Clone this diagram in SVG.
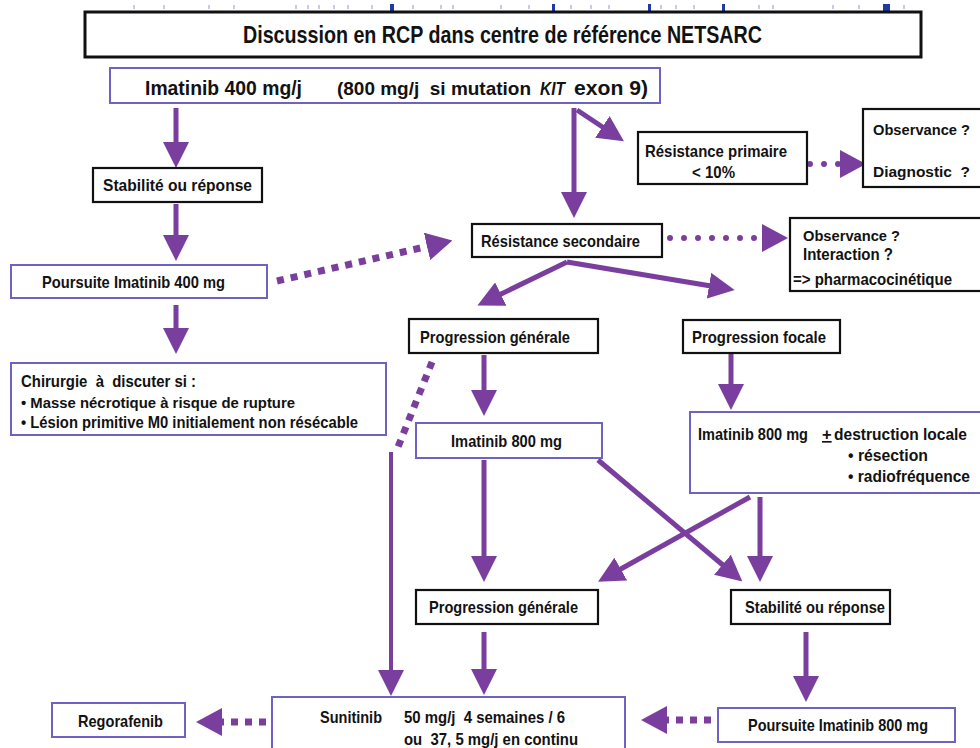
<svg xmlns="http://www.w3.org/2000/svg" width="980" height="748" viewBox="0 0 980 748">
  <style>
    .t { font-family: "Liberation Sans", Arial, Helvetica, sans-serif; font-weight: bold; fill: #121212; white-space: pre; }
    .bk { fill: #ffffff; stroke: #111111; stroke-width: 2.2; }
    .bl { fill: #ffffff; stroke: #6e62c4; stroke-width: 2; }
    .arw { fill: none; stroke: #7a3f9e; stroke-width: 5; marker-end: url(#head); }
    .thin { fill: none; stroke: #7a3f9e; stroke-width: 4; }
    .dsq { fill: none; stroke: #7a3f9e; stroke-width: 7; stroke-dasharray: 7 7; }
    .drd { fill: none; stroke: #7a3f9e; stroke-width: 6; stroke-linecap: round; stroke-dasharray: 0 14; }
    .tick { fill: #c9c9e2; }
    .tickd { fill: #1d3aa6; }
  </style>
  <defs>
    <marker id="head" markerUnits="userSpaceOnUse" markerWidth="26" markerHeight="26" viewBox="0 0 26 26" refX="2" refY="13" orient="auto">
      <path d="M0,0 L26,13 L0,26 Z" fill="#7a3f9e"/>
    </marker>
    <marker id="headd" markerUnits="userSpaceOnUse" markerWidth="26" markerHeight="28" viewBox="0 0 26 28" refX="2" refY="14" orient="auto">
      <path d="M0,0 L26,14 L0,28 Z" fill="#7a3f9e"/>
    </marker>
  </defs>

  <!-- faint tick row along the top edge -->
  <g id="ticks">
    <rect class="tick" x="133" y="5" width="2" height="4"/>
    <rect class="tick" x="163" y="5" width="2" height="4"/>
    <rect class="tick" x="208" y="5" width="2" height="4"/>
    <rect class="tick" x="233" y="5" width="2" height="4"/>
    <rect class="tick" x="295" y="5" width="2" height="4"/>
    <rect class="tick" x="307" y="5" width="2" height="4"/>
    <rect class="tick" x="318" y="5" width="2" height="4"/>
    <rect class="tick" x="333" y="5" width="2" height="4"/>
    <rect class="tick" x="347" y="5" width="2" height="4"/>
    <rect class="tick" x="371" y="5" width="2" height="4"/>
    <rect class="tick" x="412" y="5" width="2" height="4"/>
    <rect class="tick" x="440" y="5" width="2" height="4"/>
    <rect class="tick" x="452" y="5" width="2" height="4"/>
    <rect class="tick" x="500" y="5" width="2" height="4"/>
    <rect class="tick" x="528" y="5" width="2" height="4"/>
    <rect class="tick" x="570" y="5" width="2" height="4"/>
    <rect class="tick" x="590" y="5" width="2" height="4"/>
    <rect class="tick" x="608" y="5" width="2" height="4"/>
    <rect class="tick" x="660" y="5" width="2" height="4"/>
    <rect class="tick" x="675" y="5" width="2" height="4"/>
    <rect class="tick" x="693" y="5" width="2" height="4"/>
    <rect class="tick" x="758" y="5" width="2" height="4"/>
    <rect class="tick" x="772" y="5" width="2" height="4"/>
    <rect class="tick" x="832" y="5" width="2" height="4"/>
    <rect class="tick" x="858" y="5" width="2" height="4"/>
    <rect class="tick" x="903" y="5" width="2" height="4"/>
    <rect class="tickd" x="390" y="4" width="4" height="7"/>
    <rect class="tickd" x="552" y="4" width="3" height="7"/>
    <rect class="tickd" x="648" y="4" width="3" height="7"/>
    <rect class="tickd" x="722" y="4" width="3" height="7"/>
    <rect class="tickd" x="883" y="4" width="7" height="7"/>
  </g>

  <!-- connectors -->
  <g id="connectors">
    <path class="arw" d="M176,108 V144"/>
    <path class="arw" d="M176,204 V237"/>
    <path class="arw" d="M176,305 V330"/>
    <path class="arw" d="M574,108 V194"/>
    <path class="arw" d="M577,110 L604,128"/>
    <path class="arw" d="M567,262 L499,295"/>
    <path class="arw" d="M567,262 L711,286"/>
    <path class="arw" d="M484,355 V392"/>
    <path class="arw" d="M731,353 V386"/>
    <path class="arw" d="M598,460 L724,566"/>
    <path class="arw" d="M750,497 L619,570"/>
    <path class="arw" d="M760,497 V558"/>
    <path class="arw" d="M484,460 V558"/>
    <path class="arw" d="M484,632 V671"/>
    <path class="arw" d="M806,632 V678"/>
    <path class="dsq" d="M432,362 L398,447"/>
    <path class="thin" d="M391,452 V672" marker-end="url(#head)"/>
    <path class="dsq" d="M277,281 L429,246" marker-end="url(#headd)"/>
    <path class="drd" d="M670,238 L762,238"/>
    <path class="dsq" d="M762,238 L764,238" stroke-dasharray="none" stroke-width="0" marker-end="url(#headd)"/>
    <path class="drd" d="M810,164 L840,164"/>
    <path class="dsq" d="M840,164 L842,164" stroke-dasharray="none" stroke-width="0" marker-end="url(#headd)"/>
    <path class="dsq" d="M266,722 L220,722" stroke-width="8" marker-end="url(#headd)"/>
    <path class="dsq" d="M711,720 L665,720" stroke-width="8" marker-end="url(#headd)"/>
  </g>

  <g id="title">
    <rect x="85" y="12" width="836" height="45" fill="#fff" stroke="#111" stroke-width="3"/>
    <text class="t" x="243" y="43" font-size="23" textLength="519" lengthAdjust="spacingAndGlyphs">Discussion en RCP dans centre de référence NETSARC</text>
  </g>

  <g id="imatinib400">
    <rect class="bl" x="110" y="68" width="550" height="35"/>
    <text class="t" x="145" y="95" font-size="19.5" textLength="157" lengthAdjust="spacingAndGlyphs">Imatinib 400 mg/j</text>
    <text class="t" x="337" y="95" font-size="19" textLength="194" lengthAdjust="spacingAndGlyphs">(800 mg/j  si mutation</text>
    <text class="t" x="540" y="95" font-size="19" font-style="italic" textLength="25" lengthAdjust="spacingAndGlyphs">KIT</text>
    <text class="t" x="574" y="95" font-size="19.5" textLength="74" lengthAdjust="spacingAndGlyphs">exon 9)</text>
  </g>

  <g id="stabilite1">
    <rect class="bk" x="93" y="168" width="169" height="34"/>
    <text class="t" x="103" y="191" font-size="16.5" textLength="149" lengthAdjust="spacingAndGlyphs">Stabilité ou réponse</text>
  </g>

  <g id="poursuite400">
    <rect class="bl" x="11" y="265" width="256" height="33"/>
    <text class="t" x="42" y="288" font-size="16.5" textLength="183" lengthAdjust="spacingAndGlyphs">Poursuite Imatinib 400 mg</text>
  </g>

  <g id="chirurgie">
    <rect class="bl" x="11" y="363" width="375" height="72"/>
    <text class="t" x="21" y="387" font-size="17" textLength="175" lengthAdjust="spacingAndGlyphs">Chirurgie  à  discuter si :</text>
    <text class="t" x="21" y="408" font-size="15.5" textLength="274" lengthAdjust="spacingAndGlyphs">• Masse nécrotique à risque de rupture</text>
    <text class="t" x="21" y="428" font-size="16" textLength="337" lengthAdjust="spacingAndGlyphs">• Lésion primitive M0 initialement non résécable</text>
  </g>

  <g id="resistance-primaire">
    <rect class="bk" x="638" y="132" width="169" height="52"/>
    <text class="t" x="645" y="157" font-size="16.5" textLength="142" lengthAdjust="spacingAndGlyphs">Résistance primaire</text>
    <text class="t" x="692" y="178" font-size="16.5" textLength="43" lengthAdjust="spacingAndGlyphs">&lt; 10%</text>
  </g>

  <g id="observance-diagnostic">
    <rect class="bk" x="863" y="109" width="130" height="78"/>
    <text class="t" x="873" y="135" font-size="15.5" textLength="97" lengthAdjust="spacingAndGlyphs">Observance ?</text>
    <text class="t" x="873" y="177" font-size="15.5" textLength="97" lengthAdjust="spacingAndGlyphs">Diagnostic  ?</text>
  </g>

  <g id="resistance-secondaire">
    <rect class="bk" x="472" y="224" width="190" height="33"/>
    <text class="t" x="481" y="247" font-size="16.5" textLength="159" lengthAdjust="spacingAndGlyphs">Résistance secondaire</text>
  </g>

  <g id="observance-interaction">
    <rect class="bk" x="790" y="218" width="200" height="73"/>
    <text class="t" x="803" y="241" font-size="14" textLength="97" lengthAdjust="spacingAndGlyphs">Observance ?</text>
    <text class="t" x="803" y="260" font-size="16.5" textLength="90" lengthAdjust="spacingAndGlyphs">Interaction ?</text>
    <text class="t" x="793" y="285" font-size="16.5" textLength="159" lengthAdjust="spacingAndGlyphs">=&gt; pharmacocinétique</text>
  </g>

  <g id="progression-generale-1">
    <rect class="bk" x="409" y="319" width="189" height="34"/>
    <text class="t" x="420" y="343" font-size="16.5" textLength="150" lengthAdjust="spacingAndGlyphs">Progression générale</text>
  </g>

  <g id="progression-focale">
    <rect class="bk" x="683" y="320" width="157" height="33"/>
    <text class="t" x="692" y="343" font-size="16.5" textLength="134" lengthAdjust="spacingAndGlyphs">Progression focale</text>
  </g>

  <g id="imatinib800">
    <rect class="bl" x="416" y="423" width="186" height="35"/>
    <text class="t" x="451" y="447" font-size="16.5" textLength="111" lengthAdjust="spacingAndGlyphs">Imatinib 800 mg</text>
  </g>

  <g id="imatinib800-local">
    <rect class="bl" x="690" y="412" width="300" height="81"/>
    <text class="t" x="698" y="440" font-size="16.5" textLength="110" lengthAdjust="spacingAndGlyphs">Imatinib 800 mg</text>
    <text class="t" x="822" y="440" font-size="16.5" text-decoration="underline">+</text>
    <text class="t" x="834" y="440" font-size="16.5" textLength="133" lengthAdjust="spacingAndGlyphs">destruction locale</text>
    <text class="t" x="848" y="461" font-size="16.5" textLength="80" lengthAdjust="spacingAndGlyphs">• résection</text>
    <text class="t" x="848" y="482" font-size="16.5" textLength="122" lengthAdjust="spacingAndGlyphs">• radiofréquence</text>
  </g>

  <g id="progression-generale-2">
    <rect class="bk" x="416" y="590" width="182" height="34"/>
    <text class="t" x="429" y="613" font-size="16.5" textLength="149" lengthAdjust="spacingAndGlyphs">Progression générale</text>
  </g>

  <g id="stabilite2">
    <rect class="bk" x="731" y="590" width="159" height="34"/>
    <text class="t" x="745" y="613" font-size="16.5" textLength="140" lengthAdjust="spacingAndGlyphs">Stabilité ou réponse</text>
  </g>

  <g id="regorafenib">
    <rect class="bl" x="52" y="703" width="133" height="34"/>
    <text class="t" x="78" y="727" font-size="16.5" textLength="85" lengthAdjust="spacingAndGlyphs">Regorafenib</text>
  </g>

  <g id="sunitinib">
    <rect class="bl" x="272" y="697" width="353" height="60"/>
    <text class="t" x="320" y="723" font-size="16.5" textLength="62" lengthAdjust="spacingAndGlyphs">Sunitinib</text>
    <text class="t" x="404" y="723" font-size="16.5" textLength="161" lengthAdjust="spacingAndGlyphs">50 mg/j  4 semaines / 6</text>
    <text class="t" x="404" y="745" font-size="16.5" textLength="174" lengthAdjust="spacingAndGlyphs">ou  37, 5 mg/j en continu</text>
  </g>

  <g id="poursuite800">
    <rect class="bl" x="718" y="708" width="237" height="34"/>
    <text class="t" x="748" y="731" font-size="16.5" textLength="180" lengthAdjust="spacingAndGlyphs">Poursuite Imatinib 800 mg</text>
  </g>
</svg>
